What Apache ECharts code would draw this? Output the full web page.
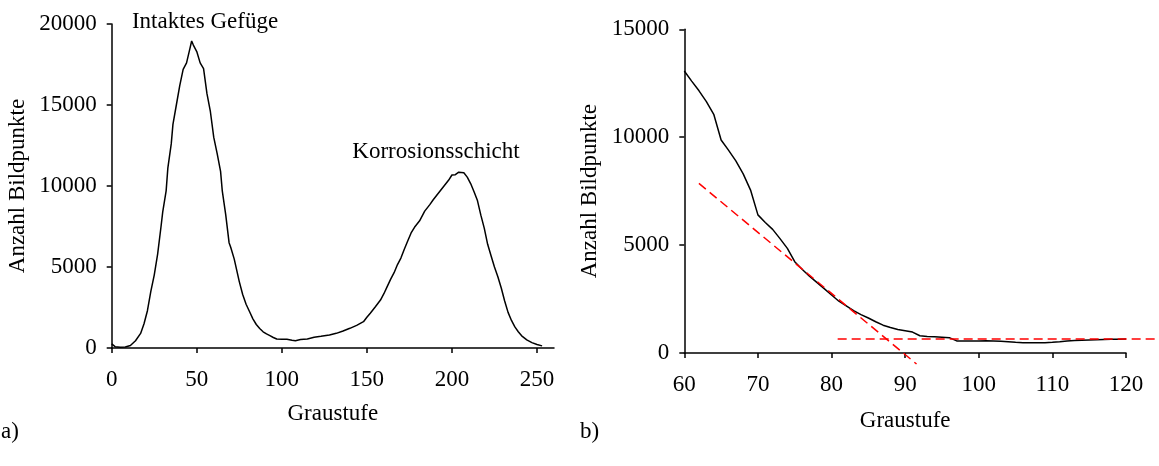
<!DOCTYPE html>
<html>
<head>
<meta charset="utf-8">
<script src="https://cdn.jsdelivr.net/npm/echarts@6/dist/echarts.min.js"></script>
<style>
html,body{margin:0;padding:0;background:#fff;}
#c{width:1159px;height:466px;}
</style>
</head>
<body>
<div id="c"></div>
<script>
// ---- Data (a): full histogram ----
const leftX = [0,2,5,8,11,14,17,19,21,23,25,27,29,30,32,33,35,36,38,40,42,44,46,47,48,50,52,54,56,58,60,62,64,65,67,69,70,72,75,77,79,81,83,85,87,89,91,93,95,97,100,103,106,108,111,115,119,123,128,132,136,140,144,148,150,152,155,158,160,162,164,166,168,170,172,174,176,178,181,184,187,189,192,195,198,200,202,204,205,207,209,211,213,215,217,219,221,223,225,227,229,231,233,235,237,239,241,244,247,250,253];
const leftY = [250,80,50,60,150,450,900,1500,2300,3500,4500,5800,7500,8400,9700,11100,12600,13800,15000,16200,17200,17600,18500,18950,18700,18300,17600,17250,15700,14600,13000,12000,10900,9700,8250,6500,6200,5500,4100,3300,2700,2250,1800,1450,1200,1000,870,760,650,555,540,535,480,450,520,560,660,720,800,905,1050,1215,1400,1625,1900,2150,2550,2960,3350,3800,4250,4650,5150,5550,6100,6600,7100,7450,7850,8450,8850,9150,9550,9950,10350,10680,10700,10850,10950,10820,10550,10150,9650,9100,8200,7400,6400,5700,5000,4400,3700,2900,2200,1700,1300,1000,750,500,330,220,130];

// ---- Data (b): zoom 60..120 ----
const rightX = [60,61,62,63,64,65,66,67,68,69,70,71,72,73,74,75,76,77,78,79,80,81,82,83,84,85,86,87,88,89,90,91,92,93,94,95,96,97,98,99,100,101,102,103,104,105,106,107,108,109,110,111,112,113,114,115,116,117,118,119,120];
const rightY = [13070,12600,12150,11650,11060,9870,9400,8900,8300,7550,6400,6050,5730,5300,4850,4230,3880,3560,3270,2980,2690,2400,2180,1960,1780,1620,1450,1290,1180,1090,1030,970,800,770,750,730,710,560,555,555,560,570,560,540,520,495,480,475,475,478,495,520,555,575,590,605,615,625,632,640,650];

// Tangent lines (red dashed)
const slopeLineX = [62, 91.8];
const slopeLineY = [7860, -510];
const baseLineX = [81, 125];
const baseLineY = [650, 650];

// Tick labels
const leftXTicks = [0,50,100,150,200,250];
const leftYTicks = [0,5000,10000,15000,20000];
const rightXTicks = [60,70,80,90,100,110,120];
const rightYTicks = [0,5000,10000,15000];

const pairs = (xs, ys) => xs.map((x, i) => [x, ys[i]]);

const FONT = 'Liberation Serif';
const FS = 23;
const axisCommon = {
  axisLine: {show: true, lineStyle: {color: '#000', width: 1.5}},
  axisTick: {show: true, length: 5, inside: false, lineStyle: {color: '#000', width: 1.5}},
  splitLine: {show: false},
  nameTextStyle: {fontFamily: FONT, fontSize: FS, color: '#000'},
};
const lbl = (margin, ticks) => ({fontFamily: FONT, fontSize: FS, color: '#000', margin: margin,
  customValues: ticks, formatter: (v) => String(v)});
const tick = (ticks) => Object.assign({}, axisCommon.axisTick, {customValues: ticks});

// right grid geometry (px); the overlay grid for the red lines shares the same scale
const RG = {left: 684.3, top: 29.3, width: 441.7, height: 323.7};
const rMin = 60, rMax = 120, oMax = 125;

const chart = echarts.init(document.getElementById('c'), null, {renderer: 'canvas'});
chart.setOption({
  animation: false,
  backgroundColor: '#fff',
  grid: [
    {left: 111.7, top: 24, width: 442.3, height: 324},
    {left: RG.left, top: RG.top, width: RG.width, height: RG.height},
    {left: RG.left, top: RG.top, width: RG.width * (oMax - rMin) / (rMax - rMin), height: RG.height}
  ],
  xAxis: [
    Object.assign({}, axisCommon, {
      gridIndex: 0, type: 'value', min: 0, max: 260, interval: 50,
      name: 'Graustufe', nameLocation: 'middle', nameGap: 54,
      axisTick: tick(leftXTicks), axisLabel: lbl(20, leftXTicks)
    }),
    Object.assign({}, axisCommon, {
      gridIndex: 1, type: 'value', min: rMin, max: rMax, interval: 10,
      name: 'Graustufe', nameLocation: 'middle', nameGap: 56,
      axisTick: tick(rightXTicks), axisLabel: lbl(20, rightXTicks)
    }),
    {gridIndex: 2, type: 'value', min: rMin, max: oMax, show: false}
  ],
  yAxis: [
    Object.assign({}, axisCommon, {
      gridIndex: 0, type: 'value', min: 0, max: 20000, interval: 5000,
      name: 'Anzahl Bildpunkte', nameLocation: 'middle', nameGap: 82, nameRotate: 90,
      axisTick: tick(leftYTicks), axisLabel: lbl(15, leftYTicks)
    }),
    Object.assign({}, axisCommon, {
      gridIndex: 1, type: 'value', min: 0, max: 15000, interval: 5000,
      name: 'Anzahl Bildpunkte', nameLocation: 'middle', nameGap: 83, nameRotate: 90,
      axisTick: tick(rightYTicks), axisLabel: lbl(15, rightYTicks)
    }),
    {gridIndex: 2, type: 'value', min: 0, max: 15000, show: false}
  ],
  series: [
    {type: 'line', xAxisIndex: 0, yAxisIndex: 0, data: pairs(leftX, leftY), showSymbol: false,
     lineStyle: {color: '#000', width: 1.5}, silent: true},
    {type: 'line', xAxisIndex: 1, yAxisIndex: 1, data: pairs(rightX, rightY), showSymbol: false,
     lineStyle: {color: '#000', width: 1.5}, silent: true},
    {type: 'line', xAxisIndex: 2, yAxisIndex: 2, data: pairs(slopeLineX, slopeLineY), showSymbol: false, clip: false,
     lineStyle: {color: '#ff0000', width: 1.5, type: [9, 5]}, silent: true},
    {type: 'line', xAxisIndex: 2, yAxisIndex: 2, data: pairs(baseLineX, baseLineY), showSymbol: false, clip: false,
     lineStyle: {color: '#ff0000', width: 1.5, type: [9, 5]}, silent: true}
  ],
  graphic: [
    {type: 'text', x: 205, y: 22, style: {text: 'Intaktes Gefüge', fontFamily: FONT, fontSize: FS, fill: '#000', align: 'center', verticalAlign: 'middle'}},
    {type: 'text', x: 436, y: 152, style: {text: 'Korrosionsschicht', fontFamily: FONT, fontSize: FS, fill: '#000', align: 'center', verticalAlign: 'middle'}},
    {type: 'text', x: 1, y: 432, style: {text: 'a)', fontFamily: FONT, fontSize: FS, fill: '#000', align: 'left', verticalAlign: 'middle'}},
    {type: 'text', x: 580, y: 432, style: {text: 'b)', fontFamily: FONT, fontSize: FS, fill: '#000', align: 'left', verticalAlign: 'middle'}}
  ]
});
</script>
</body>
</html>
